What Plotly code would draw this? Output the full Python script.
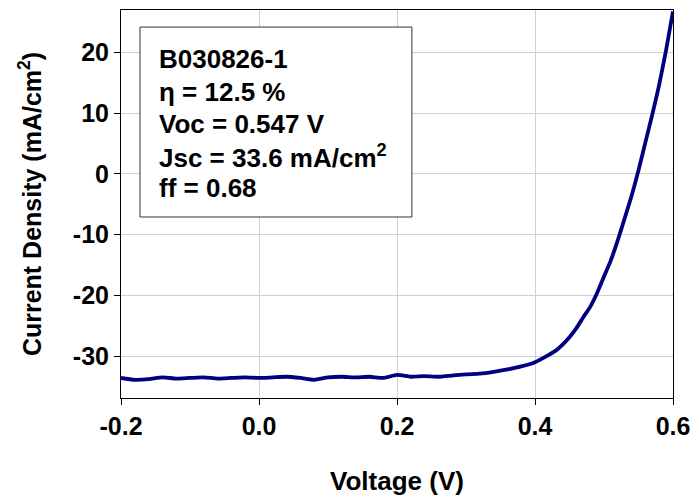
import plotly.graph_objects as go

voltage = [-0.20, -0.18, -0.16, -0.14, -0.12, -0.10, -0.08, -0.06, -0.04, -0.02,
           0.00, 0.02, 0.04, 0.06, 0.08, 0.10, 0.12, 0.14, 0.16, 0.18,
           0.20, 0.22, 0.24, 0.26, 0.28, 0.30, 0.32, 0.34, 0.36, 0.38,
           0.40, 0.42, 0.43, 0.44, 0.45, 0.46, 0.47, 0.48, 0.49, 0.50,
           0.51, 0.52, 0.53, 0.54, 0.55, 0.56, 0.57, 0.58, 0.59, 0.60]
current = [-33.6, -33.9, -33.8, -33.5, -33.7, -33.6, -33.5, -33.7, -33.6, -33.5,
           -33.6, -33.5, -33.4, -33.6, -33.9, -33.5, -33.4, -33.5, -33.4, -33.6,
           -33.1, -33.4, -33.3, -33.4, -33.2, -33.0, -32.9, -32.6, -32.2, -31.7,
           -31.0, -29.8, -29.1, -28.1, -26.9, -25.4, -23.6, -21.9, -19.6, -16.9,
           -14.2, -10.9, -7.3, -3.6, 0.6, 5.2, 9.8, 14.7, 20.4, 26.8]

x_ticks = [-0.2, 0.0, 0.2, 0.4, 0.6]
x_ticklabels = ["-0.2", "0.0", "0.2", "0.4", "0.6"]
y_ticks = [-30, -20, -10, 0, 10, 20]
y_ticklabels = ["-30", "-20", "-10", "0", "10", "20"]

info_lines = ["B030826-1", "η = 12.5 %", "Voc = 0.547 V",
              "Jsc = 33.6 mA/cm<sup>2</sup>", "ff = 0.68"]

FONT = "Arial, Liberation Sans, sans-serif"

fig = go.Figure()
fig.add_trace(go.Scatter(x=voltage, y=current, mode="lines",
                         line=dict(color="#000080", width=3.8, shape="spline", smoothing=0.6),
                         showlegend=False))

fig.update_layout(
    width=692, height=496,
    margin=dict(l=121, r=19, t=10, b=98),
    paper_bgcolor="white", plot_bgcolor="white",
    font=dict(family=FONT, color="black"),
    xaxis=dict(range=[-0.2, 0.6], tickvals=x_ticks, ticktext=x_ticklabels,
               showgrid=True, gridcolor="#d0d0d0", gridwidth=1, zeroline=False,
               showline=True, linecolor="black", linewidth=1, mirror=True,
               ticks="outside", ticklen=6, tickcolor="black", automargin=False,
               tickfont=dict(size=25, family=FONT, weight="bold"),
               title=dict(text="<b>Voltage (V)</b>", font=dict(size=26, family=FONT), standoff=33)),
    yaxis=dict(range=[-36.9, 27], tickvals=y_ticks, ticktext=y_ticklabels,
               showgrid=True, gridcolor="#d0d0d0", gridwidth=1, zeroline=False,
               showline=True, linecolor="black", linewidth=1, mirror=True,
               ticks="outside", ticklen=6, tickcolor="black", automargin=False,
               tickfont=dict(size=25, family=FONT, weight="bold"),
               title=dict(text="<b>Current Density (mA/cm<sup>2</sup>)</b>",
                          font=dict(size=25, family=FONT), standoff=24)),
)

fig.add_shape(type="rect", xref="paper", yref="paper",
              x0=0.0344, x1=0.527, y0=0.4665, y1=0.956,
              line=dict(color="#333333", width=1), fillcolor="white", layer="above")

baselines_px = [68, 101, 133, 165, 197]
for txt, b in zip(info_lines, baselines_px):
    ymid = b - 9
    fig.add_annotation(xref="paper", yref="paper", x=(157 - 121) / 552,
                       y=(398 - ymid) / 388, xanchor="left", yanchor="middle",
                       text="<b>" + txt + "</b>", showarrow=False,
                       font=dict(size=26, family=FONT, color="black"))

fig.write_html("out.html")
